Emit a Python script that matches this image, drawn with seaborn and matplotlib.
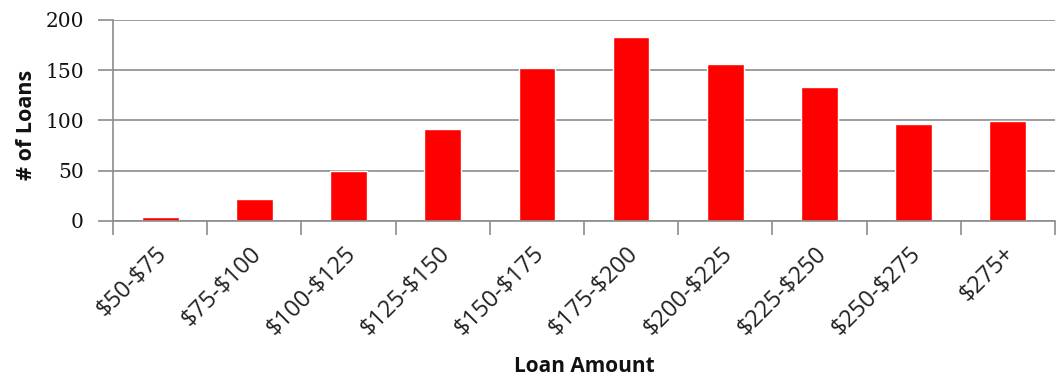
import matplotlib
matplotlib.use("Agg")
import matplotlib.pyplot as plt
from matplotlib.ticker import FixedLocator
from matplotlib.transforms import ScaledTranslation
import seaborn as sns
import pandas as pd

categories = ["$50-$75", "$75-$100", "$100-$125", "$125-$150", "$150-$175",
              "$175-$200", "$200-$225", "$225-$250", "$250-$275", "$275+"]
loans = [4, 22, 50, 91, 152, 183, 156, 133, 96, 99]
y_ticks = [0, 50, 100, 150, 200]

sns.set_theme(style="white")
plt.rcParams["font.family"] = ["Open Sans", "DejaVu Sans"]

df = pd.DataFrame({"Loan Amount": categories, "# of Loans": loans})

fig = plt.figure(figsize=(10.57, 3.75), dpi=100)
ax = fig.add_axes([0.107, 0.411, 0.891, 0.536])

sns.barplot(data=df, x="Loan Amount", y="# of Loans", color="#ff0000",
            saturation=1, width=0.39, ax=ax)

ax.set_xlim(-0.5, len(categories) - 0.5)
ax.set_ylim(0, 200)
ax.yaxis.grid(True, color="#8c8c8c", linewidth=1.2)
ax.set_axisbelow(True)

for s in ["top", "right"]:
    ax.spines[s].set_visible(False)
for s in ["left", "bottom"]:
    ax.spines[s].set_color("#8c8c8c")
    ax.spines[s].set_linewidth(1.2)

# tick marks at category boundaries
ax.xaxis.set_minor_locator(FixedLocator([i - 0.5 for i in range(len(categories) + 1)]))
ax.tick_params(axis="x", which="minor", bottom=True, length=10, width=1.2, color="#8c8c8c")
ax.tick_params(axis="x", which="major", bottom=False, length=0, pad=21)
ax.tick_params(axis="y", which="major", left=True, length=11, width=1.2, color="#8c8c8c", pad=10)

ax.set_yticks(y_ticks)
ax.set_yticklabels([str(v) for v in y_ticks], fontfamily="DejaVu Serif",
                   fontsize=14.5, color="#111111")
ax.set_xticks(range(len(categories)))
ax.set_xticklabels(categories, parse_math=False, rotation=45, ha="right", va="center",
                   rotation_mode="anchor", fontsize=17,
                   fontfamily=["Open Sans", "DejaVu Sans"], color="#222222")
offset = ScaledTranslation(3 / 100, 0, fig.dpi_scale_trans)
for lbl in ax.get_xticklabels():
    lbl.set_transform(lbl.get_transform() + offset)

ax.set_xlabel("Loan Amount", fontsize=15, fontweight="bold", color="#111111")
ax.xaxis.set_label_coords(0.5, -0.67)
ax.set_ylabel("# of Loans", fontsize=15.5, fontweight="bold", color="#111111")
ax.yaxis.set_label_coords(-0.081, 0.48)

fig.savefig("out.png", dpi=100)
